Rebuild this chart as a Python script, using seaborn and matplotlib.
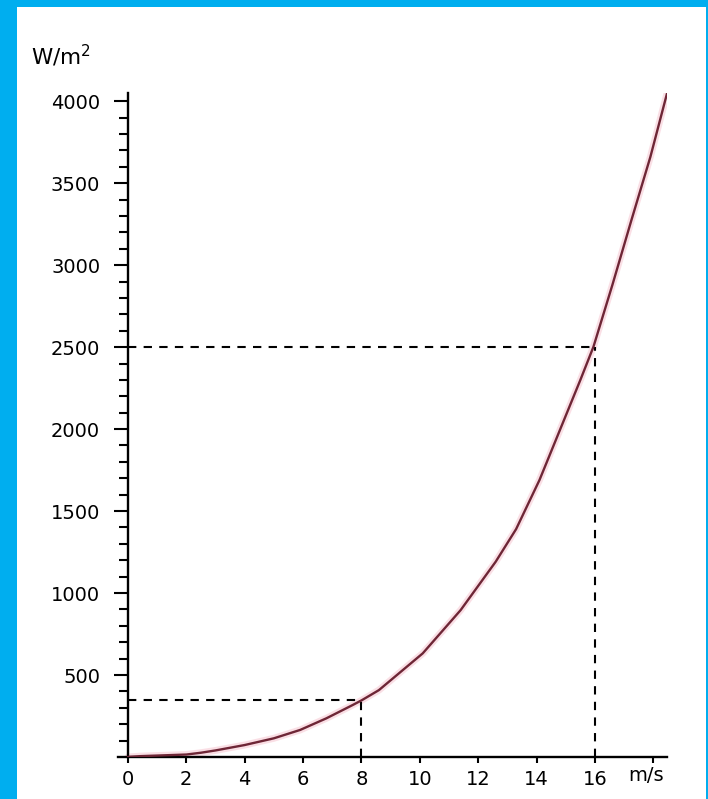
import matplotlib
matplotlib.use("Agg")
import matplotlib.pyplot as plt
from matplotlib.patches import Rectangle
from matplotlib.ticker import FixedLocator
import seaborn as sns
import pandas as pd

# Wind speed (m/s) and power density of the wind (W/m^2)
wind_speed = [0, 0.4, 1.2, 2.0, 2.5, 3.0, 4.0, 5.0, 5.9, 6.8, 7.7, 8.0,
              8.6, 10.1, 11.4, 12.6, 13.3, 14.1, 15.5, 15.95, 16.6,
              17.25, 17.9, 18.47]
power_density = [0, 5, 10, 15, 26, 40, 73, 114, 165, 236, 317, 345,
                 408, 632, 896, 1191, 1390, 1689, 2299, 2502, 2880,
                 3274, 3660, 4047]

# Reference readings marked with dashed guides
guide_speeds = [8, 16]
guide_powers = [345, 2500]

x_ticks = [0, 2, 4, 6, 8, 10, 12, 14, 16, 18]
x_tick_labels = ["0", "2", "4", "6", "8", "10", "12", "14", "16", ""]
y_ticks = [500, 1000, 1500, 2000, 2500, 3000, 3500, 4000]
y_tick_labels = ["500", "1000", "1500", "2000", "2500", "3000", "3500", "4000"]

sns.set_style("ticks")
plt.rcParams["font.family"] = ["DejaVu Sans"]
plt.rcParams["text.color"] = "black"
plt.rcParams["xtick.color"] = "black"
plt.rcParams["ytick.color"] = "black"
plt.rcParams["axes.edgecolor"] = "black"

fig = plt.figure(figsize=(7.08, 7.99), dpi=100)
fig.patch.set_facecolor("#00aeef")
fig.add_artist(Rectangle((17 / 708, 0), (706 - 17) / 708, (799 - 7) / 799,
                         transform=fig.transFigure, facecolor="white",
                         edgecolor="none", zorder=0))

ax = fig.add_axes([118 / 708, 42 / 799, 549 / 708, 664 / 799])
ax.set_facecolor("none")

df = pd.DataFrame({"speed": wind_speed, "power": power_density})
# soft halo under the curve
sns.lineplot(data=df, x="speed", y="power", ax=ax, color="#f6c0cc",
             linewidth=5, alpha=0.5, zorder=2)
sns.lineplot(data=df, x="speed", y="power", ax=ax, color="#6e2636",
             linewidth=1.7, zorder=3)

for v, p in zip(guide_speeds, guide_powers):
    ax.plot([0, v], [p, p], color="black", linestyle=(0, (4, 3.5)),
            linewidth=1.5, zorder=2)
    ax.plot([v, v], [0, p], color="black", linestyle=(0, (4, 3.5)),
            linewidth=1.5, zorder=2)

ax.set_xlim(-0.34, 18.47)
ax.set_ylim(0, 4050)

for side in ("top", "right"):
    ax.spines[side].set_visible(False)
ax.spines["left"].set_position(("data", 0))
ax.spines["left"].set_linewidth(1.7)
ax.spines["bottom"].set_linewidth(1.7)

ax.xaxis.set_major_locator(FixedLocator(x_ticks))
ax.set_xticklabels(x_tick_labels)
ax.yaxis.set_major_locator(FixedLocator(y_ticks))
ax.set_yticklabels(y_tick_labels)
ax.yaxis.set_minor_locator(FixedLocator(
    [v for v in range(100, 4000, 100) if v % 500 != 0]))

ax.tick_params(axis="x", which="major", direction="out", length=4.5,
               width=1.5, pad=5, labelsize=14, colors="black")
ax.tick_params(axis="y", which="major", direction="out", length=10,
               width=1.5, pad=10, labelsize=14, colors="black")
ax.tick_params(axis="y", which="minor", direction="out", length=6.5,
               width=1.5, colors="black")

ax.set_xlabel("")
ax.set_ylabel("")

ax.text(17.75, -0.013, "m/s", transform=ax.get_xaxis_transform(),
        ha="center", va="top", fontsize=14, color="black")
fig.text(31 / 708, 1 - 65 / 799, "W/m$^2$", ha="left", va="baseline",
         fontsize=15.5, color="black")

fig.savefig("out.png", dpi=100, facecolor=fig.get_facecolor())
